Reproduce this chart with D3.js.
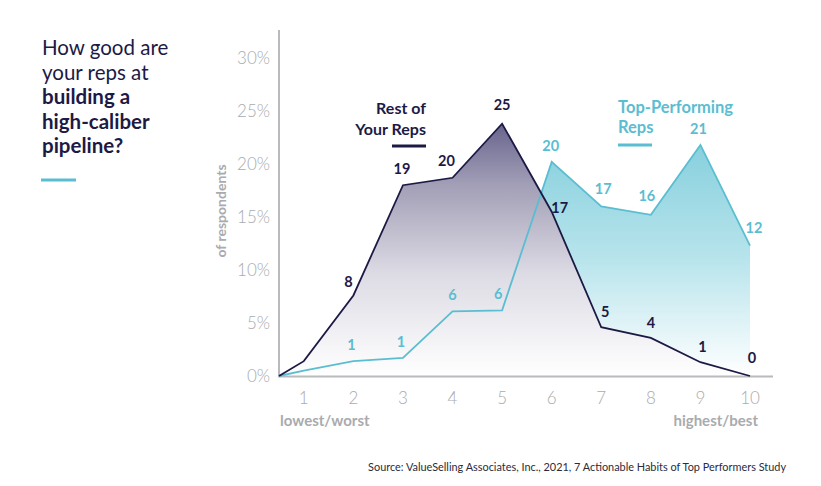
<!DOCTYPE html>
<html>
<head>
<meta charset="utf-8">
<script src="https://cdn.jsdelivr.net/npm/d3@7"></script>
<style>
  html, body { margin: 0; padding: 0; background: #ffffff; }
  svg { display: block; font-family: Lato, "Open Sans", sans-serif; }
</style>
</head>
<body>
<svg id="chart" width="821" height="486"></svg>
<script>
// ---- data ----
const scores = [1, 2, 3, 4, 5, 6, 7, 8, 9, 10];
const startScore = 0.5;            // both lines begin at the axis origin
const restValues = [1.4, 7.6, 18.0, 18.7, 23.8, 15.5, 4.6, 3.6, 1.3, 0];
const restLabels = [null, "8", "19", "20", "25", "17", "5", "4", "1", "0"];
const topValues = [0.5, 1.4, 1.7, 6.1, 6.2, 20.2, 16.0, 15.2, 21.8, 12.3];
const topLabels = [null, "1", "1", "6", "6", "20", "17", "16", "21", "12"];
const yTicks = [0, 5, 10, 15, 20, 25, 30];
const titleLines = [
  { text: "How good are", bold: false },
  { text: "your reps at", bold: false },
  { text: "building a", bold: true },
  { text: "high-caliber", bold: true },
  { text: "pipeline?", bold: true }
];
const restName = ["Rest of", "Your Reps"];
const topName = ["Top-Performing", "Reps"];
const source = "Source: ValueSelling Associates, Inc., 2021, 7 Actionable Habits of Top Performers Study";

// label offsets (style only)
const restOffsets = [null, [-5, -8], [-1, -11], [-6, -12], [0, -14], [8, 1], [4, -10], [0, -10], [2, -10], [2, -13]];
const topOffsets = [null, [-2, -11], [-2, -11], [0, -11], [-4, -11], [-1, -11], [2, -12], [-4, -14], [-2, -11], [4, -13]];

const DARK = "#1c1a45";
const TEAL = "#5bbdd1";
const GRAY = "#a9abae";

const svg = d3.select("#chart");
const x = d3.scaleLinear().domain([0.5, 10]).range([279, 750]);
const y = d3.scaleLinear().domain([0, 30]).range([376, 58]);

// gradients
const defs = svg.append("defs");
const gDark = defs.append("linearGradient").attr("id", "gDark")
  .attr("gradientUnits", "userSpaceOnUse").attr("x1", 0).attr("x2", 0)
  .attr("y1", y(24)).attr("y2", y(0));
[[0, "#66628c"], [0.25, "#a29fb7"], [0.6, "#dddbe4"], [1, "#ffffff"]]
  .forEach(s => gDark.append("stop").attr("offset", s[0]).attr("stop-color", s[1]));
const gTeal = defs.append("linearGradient").attr("id", "gTeal")
  .attr("gradientUnits", "userSpaceOnUse").attr("x1", 0).attr("x2", 0)
  .attr("y1", y(22)).attr("y2", y(0));
[[0, "#86d0dd"], [0.5, "#b8e4ec"], [1, "#ffffff"]]
  .forEach(s => gTeal.append("stop").attr("offset", s[0]).attr("stop-color", s[1]));

const restPts = [[startScore, 0]].concat(scores.map((s, i) => [s, restValues[i]]));
const topPts = [[startScore, 0]].concat(scores.map((s, i) => [s, topValues[i]]));

const area = d3.area().x(d => x(d[0])).y0(y(0)).y1(d => y(d[1]));
const line = d3.line().x(d => x(d[0])).y(d => y(d[1]));

svg.append("path").datum(topPts).attr("d", area).attr("fill", "url(#gTeal)");
svg.append("path").datum(restPts).attr("d", area).attr("fill", "url(#gDark)");

// axes
svg.append("line").attr("x1", 279).attr("x2", 279).attr("y1", 30).attr("y2", 377)
  .attr("stroke", "#b8babd").attr("stroke-width", 2);
svg.append("line").attr("x1", 278).attr("x2", 773).attr("y1", y(0) + 0.5).attr("y2", y(0) + 0.5)
  .attr("stroke", "#b8babd").attr("stroke-width", 2);

svg.append("path").datum(topPts).attr("d", line).attr("fill", "none")
  .attr("stroke", TEAL).attr("stroke-width", 1.8).attr("stroke-linejoin", "miter");
svg.append("path").datum(restPts).attr("d", line).attr("fill", "none")
  .attr("stroke", DARK).attr("stroke-width", 1.8).attr("stroke-linejoin", "miter");

// y tick labels
svg.append("g").selectAll("text").data(yTicks).join("text")
  .attr("x", 270).attr("y", d => y(d)).attr("dy", "0.36em")
  .attr("text-anchor", "end").attr("font-size", 17).attr("font-weight", 300)
  .attr("fill", GRAY).text(d => d + "%");

// x tick labels
svg.append("g").selectAll("text").data(scores).join("text")
  .attr("x", d => x(d)).attr("y", 404)
  .attr("text-anchor", "middle").attr("font-size", 17).attr("font-weight", 300)
  .attr("fill", GRAY).text(d => d);

svg.append("text").attr("x", 280).attr("y", 426).attr("font-size", 15).attr("font-weight", 700)
  .attr("fill", GRAY).text("lowest/worst");
svg.append("text").attr("x", 758).attr("y", 426).attr("text-anchor", "end").attr("font-size", 15)
  .attr("font-weight", 700).attr("fill", GRAY).text("highest/best");

svg.append("text").attr("transform", "translate(226,211) rotate(-90)")
  .attr("text-anchor", "middle").attr("font-size", 14).attr("font-weight", 700)
  .attr("fill", GRAY).text("of respondents");

// data labels
svg.append("g").selectAll("text").data(scores.map((s, i) => i)).join("text")
  .filter(i => restLabels[i] !== null)
  .attr("x", i => x(scores[i]) + restOffsets[i][0])
  .attr("y", i => y(restValues[i]) + restOffsets[i][1])
  .attr("text-anchor", "middle").attr("font-size", 14.5).attr("font-weight", 700)
  .attr("fill", DARK).text(i => restLabels[i]);
svg.append("g").selectAll("text").data(scores.map((s, i) => i)).join("text")
  .filter(i => topLabels[i] !== null)
  .attr("x", i => x(scores[i]) + topOffsets[i][0])
  .attr("y", i => y(topValues[i]) + topOffsets[i][1])
  .attr("text-anchor", "middle").attr("font-size", 14.5).attr("font-weight", 700)
  .attr("fill", TEAL).text(i => topLabels[i]);

// legends
svg.append("g").selectAll("text").data(restName).join("text")
  .attr("x", 426).attr("y", (d, i) => 114 + i * 21).attr("text-anchor", "end")
  .attr("font-size", 16).attr("font-weight", 700).attr("fill", DARK).text(d => d);
svg.append("line").attr("x1", 392).attr("x2", 426).attr("y1", 146).attr("y2", 146)
  .attr("stroke", DARK).attr("stroke-width", 3);
svg.append("g").selectAll("text").data(topName).join("text")
  .attr("x", 618).attr("y", (d, i) => 113 + i * 20).attr("text-anchor", "start")
  .attr("font-size", 16.5).attr("font-weight", 700).attr("fill", TEAL).text(d => d);
svg.append("line").attr("x1", 618).attr("x2", 652).attr("y1", 145).attr("y2", 145)
  .attr("stroke", TEAL).attr("stroke-width", 3);

// title
svg.append("g").selectAll("text").data(titleLines).join("text")
  .attr("x", 42).attr("y", (d, i) => 55 + i * 24.5)
  .attr("font-size", 20.5).attr("font-weight", d => d.bold ? 700 : 400)
  .attr("fill", DARK).text(d => d.text);
svg.append("line").attr("x1", 41).attr("x2", 76).attr("y1", 180).attr("y2", 180)
  .attr("stroke", TEAL).attr("stroke-width", 3);

// source
svg.append("text").attr("x", 786).attr("y", 471).attr("text-anchor", "end")
  .attr("font-size", 10.9).attr("fill", "#2b2b3a").text(source);
</script>
</body>
</html>
